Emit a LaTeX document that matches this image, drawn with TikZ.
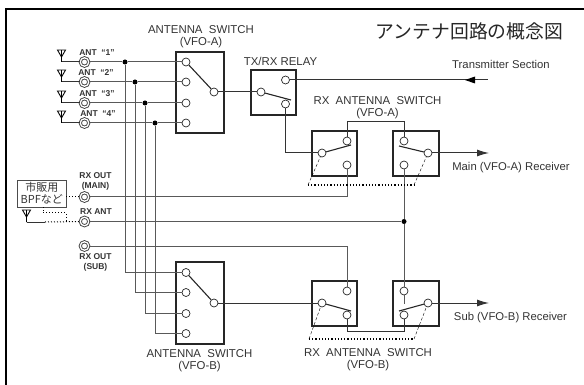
\documentclass[tikz,border=0pt]{standalone}
\usepackage{fontspec}
\setmainfont{Liberation Sans}
\newfontfamily\cjk{Noto Sans CJK JP}
\usetikzlibrary{arrows.meta}
\definecolor{wire}{gray}{0.35}
\definecolor{lbl}{gray}{0.2}
\newcommand{\fs}[1]{\fontsize{#1}{#1}\selectfont}
\tikzset{
	swbox/.style={draw=black!85,line width=1.2pt,minimum width=#1,inner sep=0pt},
	term/.style={circle,draw=black!85,fill=white,line width=.7pt,inner sep=0pt,minimum size=8pt},
	jack/.style={circle,draw=black!75,double,double distance=1.3pt,line width=.9pt,inner sep=0pt,minimum size=8.5pt},
	dot/.style={circle,fill=black,inner sep=0pt,minimum size=5pt},
	arm/.style={line width=1.1pt,black!85},
	wr/.style={wire,line width=1pt},
	gang/.style={dotted,line width=1.2pt},
	gangthin/.style={densely dashed,line width=.4pt},
	lab/.style={text=lbl,font=\fs{11.4},inner sep=0pt,align=center},
	jlab/.style={text=lbl,font=\bfseries\fs{8.5},inner sep=0pt,align=center},
	ant/.pic={\draw[line width=.9pt] (-4,-12) -- (4,-12) -- (0,-5) -- cycle (0,-12) -- (0,0);}
}
\begin{document}
\begin{tikzpicture}[x=1pt,y=-1pt]
\useasboundingbox (0,0) rectangle (584,385);
\draw[line width=2pt] (5.5,385) -- (5.5,9.5) -- (584,9.5);
% switch boxes
\node[swbox=48pt,minimum height=81pt] (swa) at (200,92.5) {};
\node[swbox=48pt,minimum height=82pt] (swb) at (200,303) {};
\node[swbox=45pt,minimum height=45pt] (relay) at (273.5,92.5) {};
\node[swbox=45pt,minimum height=45pt] (rxa1) at (334.5,153.5) {};
\node[swbox=46pt,minimum height=45pt] (rxa2) at (416,153.5) {};
\node[swbox=45pt,minimum height=45pt] (rxb1) at (334.5,303.5) {};
\node[swbox=46pt,minimum height=45pt] (rxb2) at (416,303.5) {};
% terminals
\foreach \n/\y/\z in {1/62/272.5,2/82/292.5,3/103/313.5,4/123/333.5}{
	\node[term] (aa\n) at (186,\y) {};
	\node[term] (ab\n) at (186,\z) {};
}
\node[term] (aac) at (214,92) {};
\node[term] (abc) at (214,303) {};
\node[term] (rlc) at (261,92) {};
\node[term] (rlt) at (285.5,80) {};
\node[term] (rlb) at (285.5,104) {};
\foreach \m/\x/\a in {a1/347/153,a2/404/153,b1/347/303,b2/404/303}{
	\node[term] (rx\m t) at (\x,\a-12) {};
	\node[term] (rx\m b) at (\x,\a+12) {};
}
\node[term] (rxa1c) at (322,153) {};
\node[term] (rxa2c) at (428,153) {};
\node[term] (rxb1c) at (322,303) {};
\node[term] (rxb2c) at (428,303) {};
% antennas, jacks and buses
\foreach \n/\y/\x in {1/62/125,2/82/135,3/103/145,4/123/155}{
	\node[jack] (j\n) at (84.5,\y) {};
	\coordinate (a\n) at (61.5,\y);
	\pic at (a\n) {ant};
	\node[dot] (d\n) at (\x,\y) {};
	\draw[line width=1pt,black!80] (a\n) -- (j\n);
	\draw[wr] (j\n) -- (d\n) -- (aa\n);
	\draw[wr] (d\n) |- (ab\n);
}
\node[jlab] at (97,53) {ANT\ \ ``1''};
\node[jlab] at (96,73) {ANT\ \ ``2''};
\node[jlab] at (97,94) {ANT\ \ ``3''};
\node[jlab] at (98,114) {ANT\ \ ``4''};
% arms and links
\draw[arm] (aa1) -- (aac);
\draw[arm] (ab1) -- (abc);
\coordinate (rlarm) at (291,100);
\draw[arm] (rlc) -- (rlarm);
\draw[wr,black!80] (aac) -- (rlc);
\coordinate (txend) at (488,80);
\draw[wr,black!80] (rlt) -- (txend);
\fill[black] (465,80) -- (475,76.5) -- (475,83.5) -- cycle;
\draw[wr,black!80] (rlb) |- (rxa1c);
\coordinate (rxa1arm) at (351,145);
\draw[arm] (rxa1c) -- (rxa1arm);
\coordinate (rxa2arm) at (399,146);
\draw[arm] (rxa2arm) -- (rxa2c);
\coordinate (rxb1arm) at (351,311);
\draw[arm] (rxb1c) -- (rxb1arm);
\coordinate (rxb2arm) at (399,311);
\draw[arm] (rxb2arm) -- (rxb2c);
\coordinate (rxb2stub) at (404,304);
\draw[wr] (rxb2t) -- (rxb2stub);
\coordinate (outa) at (489,153);
\coordinate (outb) at (489,303);
\draw[wr,black!80,-{Latex[length=12pt,width=7pt]}] (rxa2c) -- (outa);
\draw[wr,black!80,-{Latex[length=12pt,width=7pt]}] (rxb2c) -- (outb);
\coordinate (linka1) at (347,122);
\coordinate (linka2) at (404,122);
\draw[wr,black!80] (rxa1t) -- (linka1) -- (linka2) -- (rxa2t);
\coordinate (linkb1) at (347,331);
\coordinate (linkb2) at (404,331);
\draw[wr,black!80] (rxb1b) -- (linkb1) -- (linkb2) -- (rxb2b);
\draw[wr,black!80] (abc) -- (rxb1c);
% rx jacks
\node[jack] (jmain) at (84.5,197) {};
\node[jack] (jant) at (84.5,221.5) {};
\node[jack] (jsub) at (84.5,246) {};
\node[dot] (dant) at (404,221.5) {};
\draw[wr] (jmain) -| (rxa1b);
\draw[wr] (jant) -- (dant);
\draw[wr] (rxa2b) -- (dant) -- (rxb2t);
\draw[wr] (jsub) -| (rxb1t);
% filter and rx antenna
\node[draw=black!70,line width=.7pt,minimum width=48.5pt,minimum height=27pt,inner sep=0pt,align=center,
	text=lbl,font=\cjk\fs{11}] (bpf) at (41.75,193.5) {市販用\\[1pt]BPFなど};
\coordinate (rxa) at (26.5,222);
\pic at (rxa) {ant};
\coordinate (rxmid) at (45,222);
\draw[line width=1pt,black!80] (rxa) -- (rxmid);
\draw[dotted,line width=1pt] (rxmid) -- (jant);
\draw[dotted,line width=1pt] (bpf.east |- jmain) -- (jmain);
\coordinate (bp1) at (43,207);
\coordinate (bp2) at (66,212.7);
\coordinate (bp3) at (66,222);
\draw[dotted,line width=1pt] (bp1) |- (bp2) -- (bp3);
% ganged links
\coordinate (ga1) at (308,185);
\coordinate (ga2) at (414,185);
\coordinate (gb1) at (309,339);
\coordinate (gb2) at (414,339);
\draw[gang] (ga1) -- (ga2);
\draw[gang] (gb1) -- (gb2);
\draw[gangthin] (ga1) -- (rxa1c);
\draw[gangthin] (ga2) -- (rxa2c);
\draw[gangthin] (gb1) -- (rxb1c);
\draw[gangthin] (gb2) -- (rxb2c);
% labels
\node[lab] at (201,37) {ANTENNA\ \ SWITCH\\[.6pt](VFO-A)};
\node[lab] at (199.5,361) {ANTENNA\ \ SWITCH\\[.6pt](VFO-B)};
\node[lab] at (280.5,61) {TX/RX RELAY};
\node[lab] at (377.5,107.5) {RX\ \ ANTENNA\ \ SWITCH\\[.6pt](VFO-A)};
\node[lab] at (368,360) {RX\ \ ANTENNA\ \ SWITCH\\[.6pt](VFO-B)};
\node[lab,font=\fs{11.3}] at (501,64) {Transmitter Section};
\node[lab,font=\fs{11.3}] at (511,168) {Main (VFO-A) Receiver};
\node[lab,font=\fs{11.3}] at (510.5,318) {Sub (VFO-B) Receiver};
\node[jlab] at (95.5,181) {RX OUT\\[1.5pt](MAIN)};
\node[jlab] at (96,212) {RX ANT};
\node[jlab] at (95.5,262) {RX OUT\\[1.5pt](SUB)};
\node[lab,font=\cjk\fs{18.8},text=black!85] at (469.5,31) {アンテナ回路の概念図};
\end{tikzpicture}
\end{document}
